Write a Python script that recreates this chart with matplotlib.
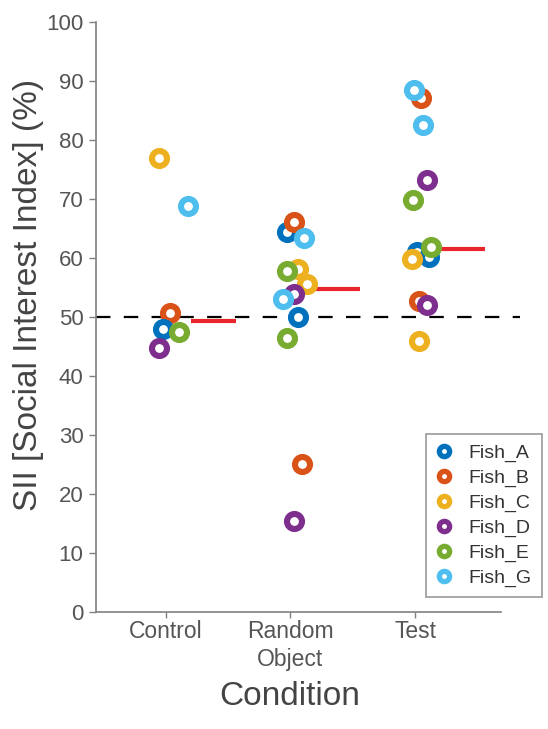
import numpy as np
import matplotlib
matplotlib.use("Agg")
import matplotlib.pyplot as plt
from matplotlib.lines import Line2D

plt.rcParams['font.family'] = ['Liberation Sans', 'DejaVu Sans']

# Conditions and per-trial social interest index values
conditions = ["Control", "Random\nObject", "Test"]
fish_names = ["Fish_A", "Fish_B", "Fish_C", "Fish_D", "Fish_E", "Fish_G"]
fish_colors = ["#0072BD", "#D95319", "#EDB120", "#7E2F8E", "#77AC30", "#4DBEEE"]

control_fish = ["Fish_C", "Fish_G", "Fish_B", "Fish_A", "Fish_E", "Fish_D"]
control_sii = [76.9, 68.8, 50.7, 48.0, 47.5, 44.7]
control_jitter = [-0.056, 0.18, 0.03, -0.025, 0.11, -0.056]

random_fish = ["Fish_A", "Fish_B", "Fish_G", "Fish_C", "Fish_E", "Fish_C",
               "Fish_D", "Fish_G", "Fish_A", "Fish_E", "Fish_B", "Fish_D"]
random_sii = [64.4, 66.1, 63.4, 58.1, 57.8, 55.6, 53.9, 53.1, 50.0, 46.4, 25.1, 15.4]
random_jitter = [-0.03, 0.03, 0.11, 0.06, -0.03, 0.13, 0.03, -0.06, 0.06, -0.03, 0.09, 0.03]

test_fish = ["Fish_B", "Fish_G", "Fish_G", "Fish_D", "Fish_E", "Fish_A",
             "Fish_A", "Fish_C", "Fish_E", "Fish_B", "Fish_D", "Fish_C"]
test_sii = [87.1, 88.5, 82.5, 73.2, 69.8, 61.0, 60.2, 59.8, 61.9, 52.7, 52.0, 45.9]
test_jitter = [0.05, -0.01, 0.065, 0.10, -0.02, 0.015, 0.11, -0.025, 0.13, 0.03, 0.10, 0.03]

yticks = list(range(0, 101, 10))
chance_level = 50

groups = [(control_fish, control_sii, control_jitter),
          (random_fish, random_sii, random_jitter),
          (test_fish, test_sii, test_jitter)]
color_of = dict(zip(fish_names, fish_colors))

fig = plt.figure(figsize=(5.48, 7.29), dpi=100)
W, H = 548, 729
ax = fig.add_axes([96 / W, (H - 612) / H, (501 - 96) / W, (612 - 22) / H])

ax.set_xlim(-0.56, 2.69)
ax.set_ylim(0, 100)

# chance level reference
ax.plot([-0.56, 2.84], [chance_level, chance_level], color="black", lw=1.6,
        dashes=(6.5, 6), zorder=1, clip_on=False)

for i, (fish, vals, jit) in enumerate(groups):
    for f, v, j in zip(fish, vals, jit):
        ax.plot(i + j, v, 'o', ms=10.8, mew=4.4, mfc="white",
                mec=color_of[f], zorder=3, clip_on=False)
    med = np.median(vals)
    ax.plot([i + 0.2, i + 0.56], [med, med], color="#E8262B", lw=3,
            solid_capstyle="butt", zorder=2)

spine_col = "#808080"
text_col = "#555555"
for s in ["top", "right"]:
    ax.spines[s].set_visible(False)
for s in ["left", "bottom"]:
    ax.spines[s].set_color(spine_col)
    ax.spines[s].set_linewidth(1.2)

ax.set_yticks(yticks)
ax.set_xticks(range(len(conditions)))
ax.set_xticklabels(conditions, linespacing=1.25)
ax.tick_params(axis="y", length=5, width=1, color=spine_col,
               labelsize=16, labelcolor=text_col, pad=4)
ax.tick_params(axis="x", length=4, width=1, color=spine_col,
               labelsize=16.5, labelcolor=text_col, pad=2)

ax.set_ylabel("SII [Social Interest Index] (%)", fontsize=24, color="#444444")
ax.yaxis.set_label_coords((44 - 96) / 405, (612 - 295) / 590)
ax.set_xlabel("Condition", fontsize=24, color="#444444")
ax.xaxis.set_label_coords((290 - 96) / 405, (612 - 681) / 590)

handles = [Line2D([], [], marker='o', ls='none', ms=7.4, mew=3.8, mfc="white",
                  mec=c) for c in fish_colors]
leg = fig.legend(handles, fish_names, loc="upper left",
                 bbox_to_anchor=(426 / W, 1 - 434 / H), frameon=True,
                 fancybox=False, edgecolor="#808080", fontsize=14,
                 handlelength=0.9, handletextpad=0.8, labelspacing=0.38,
                 borderpad=0.5, borderaxespad=0)
leg.get_frame().set_linewidth(1.2)
for t in leg.get_texts():
    t.set_color("#333333")

fig.savefig("out.png", dpi=100)
